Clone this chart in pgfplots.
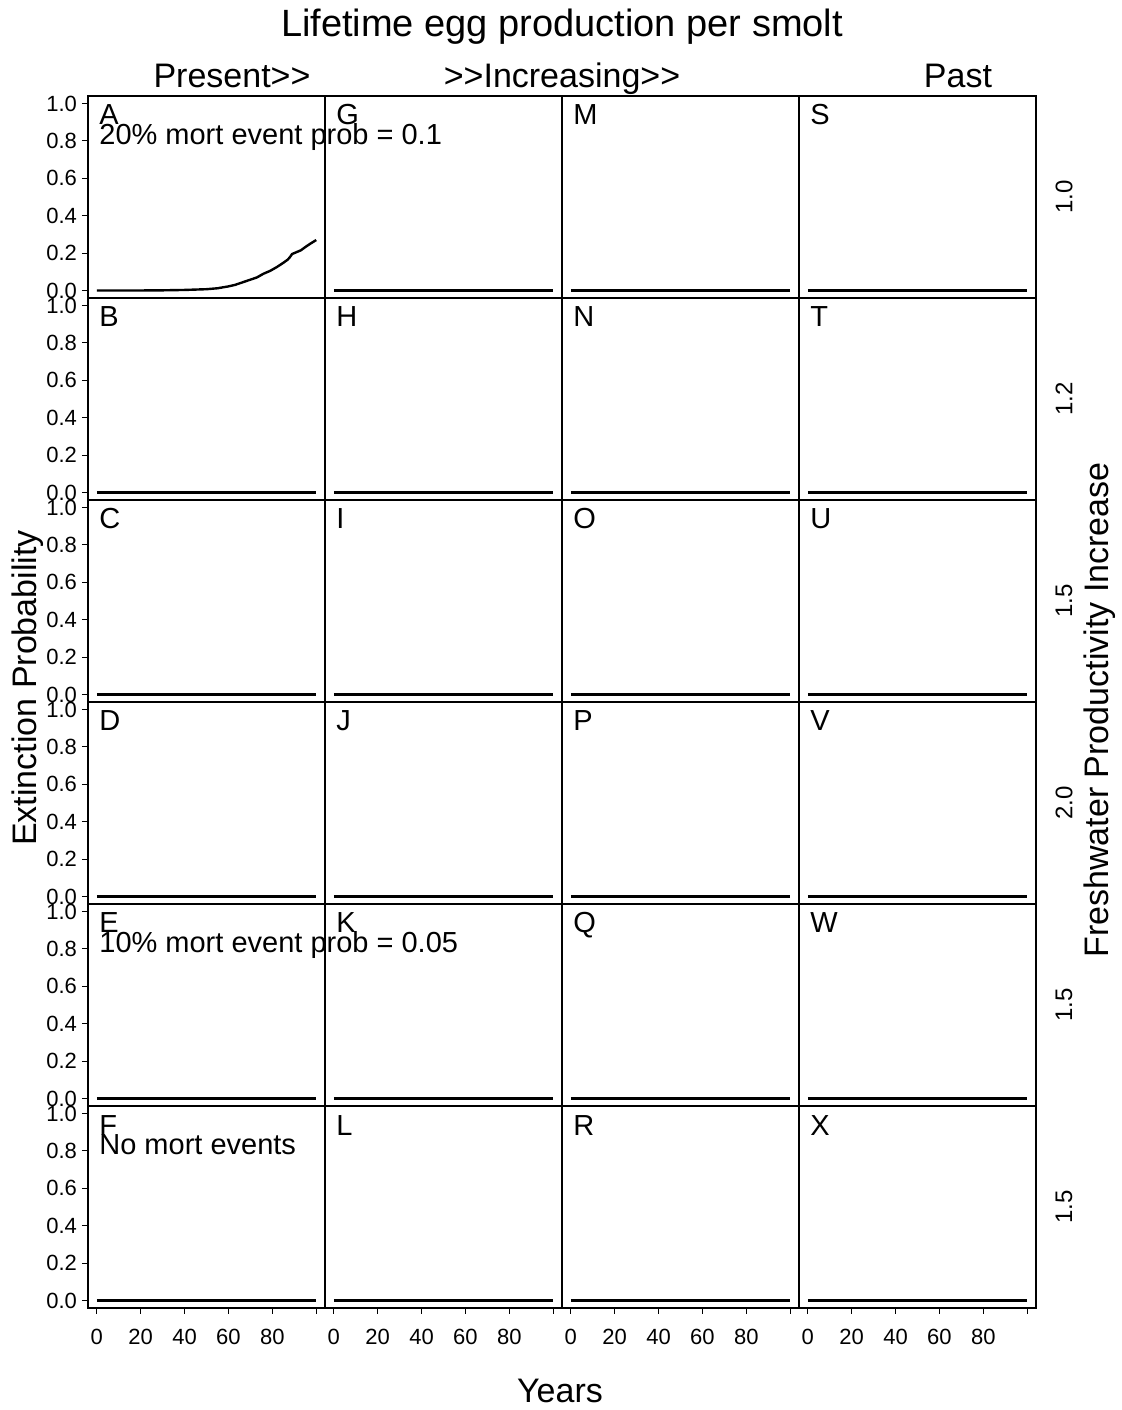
\documentclass[border=0pt]{standalone}
\usepackage{fontspec}
\setmainfont{Liberation Sans}
\usepackage{pgfplots}
\pgfplotsset{compat=1.18}
\pgfplotsset{
  panel/.style={scale only axis, width=118.5pt, height=101pt,
    xmin=-4, xmax=104, ymin=-0.04, ymax=1.04,
    axis line style={line width=1.2pt}, clip=false, anchor=south west,
    tick style={line width=0.6pt, black}, major tick length=3pt, tick align=outside,
    xtick=\empty, ytick=\empty,
    /pgf/number format/assume math mode=true,
    ticklabel style={font=\fontsize{11}{13}\selectfont}},
  leftcol/.style={ytick={0,0.2,0.4,0.6,0.8,1}, yticklabels={0.0,0.2,0.4,0.6,0.8,1.0}, ytick pos=left,
    yticklabel style={xshift=1pt}},
  botrow/.style={xtick={0,20,40,60,80,100}, xticklabels={0,20,40,60,80,{}}, xtick pos=bottom,
    xticklabel style={yshift=-4pt}},
  none/.style={},
}
\tikzset{
  dataline/.style={line width=1.2pt, black},
  lettr/.style={anchor=base west, font=\fontsize{14.5}{17}\selectfont, xshift=5.5pt, yshift=-14.5pt, inner sep=0pt},
  lettr2/.style={anchor=base west, font=\fontsize{14.5}{17}\selectfont, xshift=5.5pt, yshift=-24.5pt, inner sep=0pt},
}
\newcommand{\Panel}[5]{%
  \begin{axis}[panel,#3,at={(#1,#2)}]
    \addplot[dataline] coordinates {(0,0) (100,0)};
    \node[lettr] at (rel axis cs:0,1) {#4};
    \node[lettr2] at (rel axis cs:0,1) {#5};
  \end{axis}}
\begin{document}
\begin{tikzpicture}
\useasboundingbox (0,0) rectangle (561pt,705pt);
\fill[white] (0,0) rectangle (561pt,705pt);
% column 1
\begin{axis}[panel,leftcol,at={(44pt,556pt)}]
  \addplot[dataline] coordinates {(0,0) (5,0) (10,0) (15,0) (20,0) (25,0.001) (30,0.001) (35,0.002) (40,0.003) (45,0.005) (50,0.007) (55,0.012) (60,0.022) (63,0.030) (66,0.042) (70,0.058) (73,0.070) (76,0.090) (79,0.105) (82,0.125) (85,0.148) (87,0.165) (88,0.178) (89,0.195) (91,0.205) (93,0.215) (95,0.232) (97,0.248) (100,0.270)};
  \node[lettr] at (rel axis cs:0,1) {A};
  \node[lettr2] at (rel axis cs:0,1) {20\% mort event prob = 0.1};
\end{axis}
\Panel{44pt}{455pt}{leftcol}{B}{}
\Panel{44pt}{354pt}{leftcol}{C}{}
\Panel{44pt}{253pt}{leftcol}{D}{}
\Panel{44pt}{152pt}{leftcol}{E}{10\% mort event prob = 0.05}
\Panel{44pt}{51pt}{leftcol,botrow}{F}{No mort events}
% column 2
\Panel{162.5pt}{556pt}{none}{G}{}
\Panel{162.5pt}{455pt}{none}{H}{}
\Panel{162.5pt}{354pt}{none}{I}{}
\Panel{162.5pt}{253pt}{none}{J}{}
\Panel{162.5pt}{152pt}{none}{K}{}
\Panel{162.5pt}{51pt}{botrow}{L}{}
% column 3
\Panel{281pt}{556pt}{none}{M}{}
\Panel{281pt}{455pt}{none}{N}{}
\Panel{281pt}{354pt}{none}{O}{}
\Panel{281pt}{253pt}{none}{P}{}
\Panel{281pt}{152pt}{none}{Q}{}
\Panel{281pt}{51pt}{botrow}{R}{}
% column 4
\Panel{399.5pt}{556pt}{none}{S}{}
\Panel{399.5pt}{455pt}{none}{T}{}
\Panel{399.5pt}{354pt}{none}{U}{}
\Panel{399.5pt}{253pt}{none}{V}{}
\Panel{399.5pt}{152pt}{none}{W}{}
\Panel{399.5pt}{51pt}{botrow}{X}{}
% outer texts
\node[anchor=base, font=\fontsize{19}{22}\selectfont, inner sep=0pt] at (281pt,686.5pt) {Lifetime egg production per smolt};
\node[anchor=base, font=\fontsize{17}{20}\selectfont, inner sep=0pt] at (116pt,661pt) {Present>{}>};
\node[anchor=base, font=\fontsize{17}{20}\selectfont, inner sep=0pt] at (281pt,661pt) {>{}>Increasing>{}>};
\node[anchor=base, font=\fontsize{17}{20}\selectfont, inner sep=0pt] at (479pt,661pt) {Past};
\node[anchor=base, font=\fontsize{17}{20}\selectfont, inner sep=0pt] at (280pt,3.5pt) {Years};
\node[rotate=90, font=\fontsize{17}{20}\selectfont] at (14pt,361pt) {Extinction Probability};
\node[rotate=90, font=\fontsize{17}{20}\selectfont] at (550pt,350pt) {Freshwater Productivity Increase};
\foreach \lab/\yy in {1.0/606.5, 1.2/505.5, 1.5/404.5, 2.0/303.5, 1.5/202.5, 1.5/101.5}
  \node[rotate=90, font=\fontsize{12}{14}\selectfont] at (532pt,\yy pt) {\lab};
\end{tikzpicture}
\end{document}
